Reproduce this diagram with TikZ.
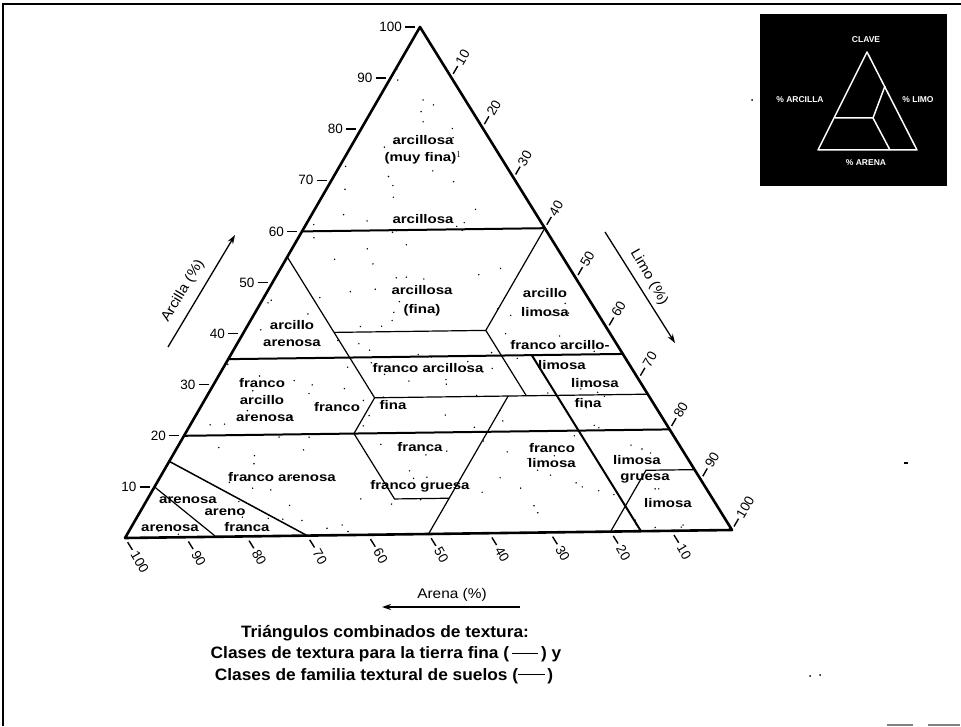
\documentclass[tikz,border=0pt]{standalone}
\usepackage{fontspec}
\setmainfont{Liberation Sans}
\newfontfamily\labfont{Liberation Sans}[FakeStretch=1.2]
\newfontfamily\capfont{Liberation Sans}[FakeStretch=1.05]
\newfontfamily\axfont{Liberation Sans}[FakeStretch=1.1]
\usetikzlibrary{arrows.meta,calc}
\begin{document}
\begin{tikzpicture}[x=1pt,y=1pt,
  lab/.style={font=\labfont\bfseries\fontsize{12.5}{13}\selectfont, inner sep=0pt},
  num/.style={font=\fontsize{13.5}{14}\selectfont, inner sep=0pt},
  axt/.style={font=\axfont\fontsize{14}{15}\selectfont, inner sep=0pt},
  capt/.style={font=\capfont\bfseries\fontsize{16.5}{18}\selectfont, inner sep=0pt},
  edgeline/.style={line width=2.6pt, line join=round},
  famline/.style={line width=2pt},
  texline/.style={line width=1.2pt},
  tickline/.style={line width=1.4pt},
  axarrow/.style={line width=1.3pt, -{Stealth[length=9pt,width=6pt]}},
  keyline/.style={white, line width=1.5pt, line join=round},
  keytext/.style={white, font=\bfseries\fontsize{8.5}{9}\selectfont, inner sep=0pt}
]
\useasboundingbox (0,0) rectangle (961,726);
\fill[white] (0,0) rectangle (961,726);
% frame
\draw[line width=2pt] (3,0) -- (3,722) -- (961,722);

\begin{scope}[shift={(125,188)}, x={(6.07pt,0.08pt)}, y={(2.95pt,5.11pt)}]
  % vertices
  \coordinate (L) at (0,0);
  \coordinate (R) at (100,0);
  \coordinate (T) at (0,100);
  % boundary points (silt, clay)
  \coordinate (c60l) at (0,60);
  \coordinate (c60r) at (40,60);
  \coordinate (c55l) at (0,55);
  \coordinate (c40a) at (15,40);
  \coordinate (c40b) at (40,40);
  \coordinate (c35l) at (0,35);
  \coordinate (c35b) at (50,35);
  \coordinate (c35r) at (65,35);
  \coordinate (c27a) at (28,27);
  \coordinate (c27b) at (50,27);
  \coordinate (c27c) at (53,27);
  \coordinate (c27r) at (73,27);
  \coordinate (c20l) at (0,20);
  \coordinate (c20a) at (28,20);
  \coordinate (c20r) at (80,20);
  \coordinate (c7a) at (41,7);
  \coordinate (c7b) at (50,7);
  \coordinate (c15l) at (0,15);
  \coordinate (c10l) at (0,10);
  \coordinate (c12a) at (80,12);
  \coordinate (c12r) at (88,12);
  \coordinate (b15) at (15,0);
  \coordinate (b30) at (30,0);
  \coordinate (b50) at (50,0);
  \coordinate (b80) at (80,0);
  \coordinate (b85) at (85,0);

  % stipple dots
  \pgfmathsetseed{4711}
  \foreach \i in {1,...,340} {
    \pgfmathsetmacro\ss{random(2,960)/10}
    \pgfmathsetmacro\cc{random(2,960)/10}
    \pgfmathtruncatemacro\ok{((\ss+\cc)<96)?1:0}
    \ifnum\ok=1 \fill (\ss,\cc) circle (0.8pt); \fi
  }

  % texture class lines (thin)
  \draw[texline] (c55l) -- (c27a);
  \draw[texline] (c40a) -- (c40b);
  \draw[texline] (c60r) -- (c40b);
  \draw[texline] (c40b) -- (c27c);
  \draw[texline] (c27a) -- (c27r);
  \draw[texline] (c27a) -- (c20a) -- (c7a) -- (c7b);
  \draw[texline] (c27b) -- (b50);
  \draw[texline] (b80) -- (c12a) -- (c12r);
  \draw[texline] (c10l) -- (b15);
  \draw[texline, line width=1.5pt] (c15l) -- (b30);
  % family lines (thick)
  \draw[famline] (c60l) -- (c60r);
  \draw[famline] (c35l) -- (c35r);
  \draw[famline] (c20l) -- (c20r);
  \draw[famline] (c35b) -- (b85);
  % outer triangle
  \draw[edgeline] (L) -- (R) -- (T) -- cycle;

  % clay ticks
  \foreach \c in {10,20,...,100} {
    \draw[tickline] ($(0,\c)+(-15pt,0pt)$) -- ($(0,\c)+(-5pt,0pt)$);
    \node[num, anchor=east] at ($(0,\c)+(-18pt,0pt)$) {\c};
  }
  % silt ticks
  \foreach \s in {10,20,...,100} {
    \draw[tickline] ($(\s,{100-\s})+(60:4pt)$) -- ($(\s,{100-\s})+(60:13pt)$);
    \node[num, rotate=60, anchor=west] at ($(\s,{100-\s})+(60:15pt)$) {\s};
  }
  % sand ticks
  \foreach \a in {10,20,...,100} {
    \draw[tickline] ($({100-\a},0)+(-58:5pt)$) -- ($({100-\a},0)+(-58:14pt)$);
    \node[num, rotate=-60, anchor=west] at ($({100-\a},0)+(-58:17pt)$) {\a};
  }
\end{scope}

% class labels
\node[lab] (l1)  at (423,586) {arcillosa};
\node[lab] (l2)  at (423,568) {(muy fina)$^{1}$};
\node[lab] (l3)  at (423,507) {arcillosa};
\node[lab] (l4)  at (422,436) {arcillosa};
\node[lab] (l5)  at (422,416) {(fina)};
\node[lab] (l6)  at (545,433) {arcillo};
\node[lab] (l7)  at (545,414) {limosa};
\node[lab] (l8)  at (292,401) {arcillo};
\node[lab] (l9)  at (292,383) {arenosa};
\node[lab] (l10) at (560,381) {franco arcillo-};
\node[lab] (l11) at (562,361) {limosa};
\node[lab] (l12) at (428,358) {franco arcillosa};
\node[lab] (l13) at (595,343) {limosa};
\node[lab] (l14) at (588,323) {fina};
\node[lab] (l15) at (262,343) {franco};
\node[lab] (l16) at (262,326) {arcillo};
\node[lab] (l17) at (265,308) {arenosa};
\node[lab] (l18) at (337,319) {franco};
\node[lab] (l19) at (393,321) {fina};
\node[lab] (l20) at (420,279) {franca};
\node[lab] (l21) at (420,240) {franco gruesa};
\node[lab] (l22) at (552,278) {franco};
\node[lab] (l23) at (552,263) {limosa};
\node[lab] (l24) at (637,266) {limosa};
\node[lab] (l25) at (645,248) {gruesa};
\node[lab] (l26) at (668,223) {limosa};
\node[lab] (l27) at (282,249) {franco arenosa};
\node[lab] (l28) at (188,226) {arenosa};
\node[lab] (l29) at (225,214) {areno};
\node[lab] (l30) at (247,199) {franca};
\node[lab] (l31) at (170,198) {arenosa};

% axis titles and arrows
\coordinate (aA) at (168,379);
\coordinate (aB) at (235,491);
\draw[axarrow] (aA) -- (aB);
\node[axt, rotate=59] (tA) at (183,435) {Arcilla (\%)};
\coordinate (lA) at (605,494);
\coordinate (lB) at (675,383);
\draw[axarrow] (lA) -- (lB);
\node[axt, rotate=-60] (tL) at (649,449) {Limo (\%)};
\coordinate (sA) at (520,119);
\coordinate (sB) at (382,119);
\draw[axarrow] (sA) -- (sB);
\node[axt] (tS) at (452,131) {Arena (\%)};

% key inset
\fill[black] (760,540) rectangle (947,712);
\coordinate (kT) at (867,674);
\coordinate (kL) at (818,576);
\coordinate (kR) at (917,576);
\coordinate (k1) at (835,608);
\coordinate (k2) at (873,608);
\coordinate (k3) at (885,640);
\coordinate (k4) at (890,576);
\draw[keyline] (kT) -- (kL) -- (kR) -- cycle;
\draw[keyline] (k1) -- (k2) -- (k3);
\draw[keyline] (k2) -- (k4);
\node[keytext] (kc) at (866,686) {CLAVE};
\node[keytext] (ka) at (800,626) {\% ARCILLA};
\node[keytext] (kl) at (918,626) {\% LIMO};
\node[keytext] (kn) at (866,563) {\% ARENA};

% caption
\node[capt] (c1) at (385,93) {Triángulos combinados de textura:};
\node[capt] (c2) at (386,72) {Clases de textura para la tierra fina\ (\,\rule[0.3em]{1.6em}{0.7pt}\,) y};
\node[capt] (c3) at (384,50) {Clases de familia textural de suelos\ (\rule[0.3em]{1.6em}{1.8pt}\,)};

% specks
\fill (752,626) circle (1pt);
\fill (904,262) rectangle (908,264);
\fill (810,50) circle (1pt);
\fill (820,51) circle (1pt);
\fill[gray] (887,0) rectangle (913,2);
\fill[gray] (928,0) rectangle (960,2);
\end{tikzpicture}
\end{document}
